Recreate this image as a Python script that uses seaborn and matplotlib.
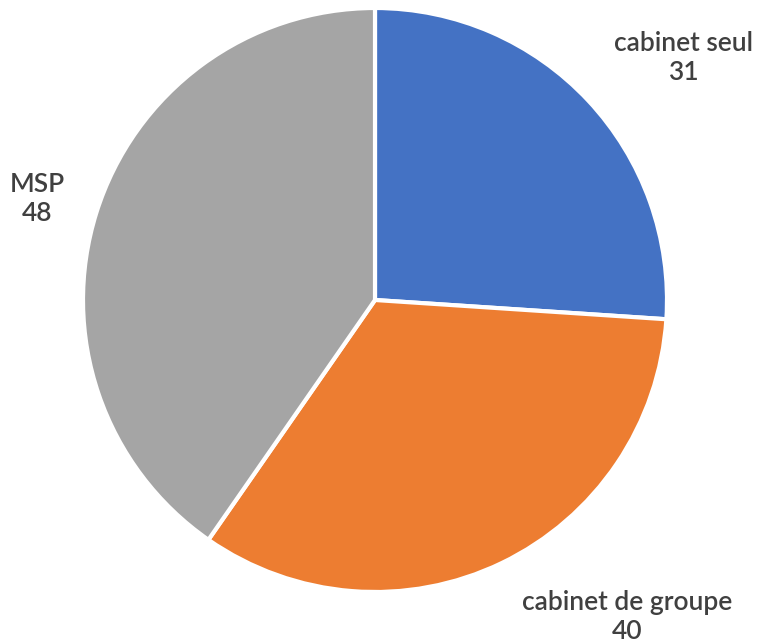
import matplotlib
matplotlib.use("Agg")
import matplotlib.pyplot as plt
import seaborn as sns

categories = ["cabinet seul", "cabinet de groupe", "MSP"]
values = [31, 40, 48]
colors = ["#4472C4", "#ED7D31", "#A5A5A5"]

sns.set_theme(style="white")
plt.rcParams['font.family'] = ['Lato', 'DejaVu Sans']

W, H = 758, 644
fig = plt.figure(figsize=(W / 100, H / 100), dpi=100)
cx, cy, r = 375, 300, 292
ax = fig.add_axes([(cx - r) / W, (H - cy - r) / H, 2 * r / W, 2 * r / H])
ax.pie(values, colors=colors, startangle=90, counterclock=False, radius=1,
       wedgeprops=dict(edgecolor="white", linewidth=3))
ax.set_xlim(-1, 1)
ax.set_ylim(-1, 1)
ax.set_aspect("equal")
ax.axis("off")

label_pos = [(683, 58), (627, 617), (37, 199)]
for (px, py), cat, v in zip(label_pos, categories, values):
    fig.text(px / W, 1 - py / H, f"{cat}\n{v}", ha="center", va="center",
             fontsize=19, color="#404040", linespacing=1.2, fontweight="semibold")

fig.savefig("out.png", dpi=100)
